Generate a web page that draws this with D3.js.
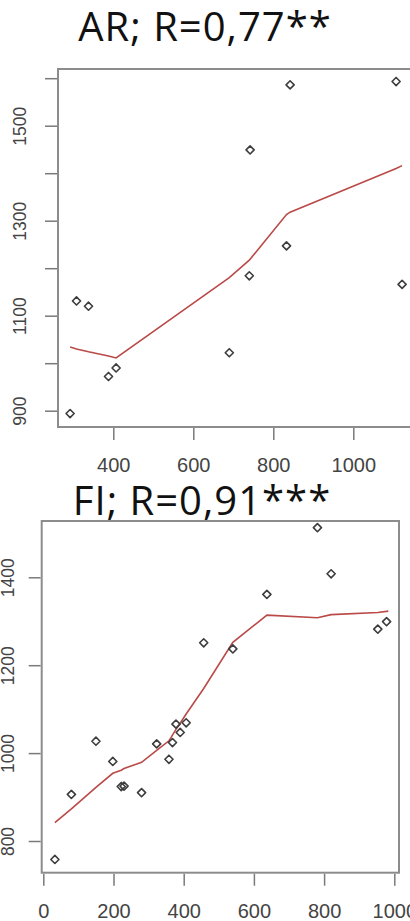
<!DOCTYPE html>
<html>
<head>
<meta charset="utf-8">
<script src="https://cdn.jsdelivr.net/npm/d3@7"></script>
<style>
  body { margin: 0; background: #fff; }
  svg { display: block; }
  .title { font-family: "Open Sans", Lato, sans-serif; font-size: 40px; fill: #111; letter-spacing: 1px; }
  .tick text { font-family: "Liberation Sans", Arial, sans-serif; fill: #444; }
  .tick line { stroke: #7a7a7a; stroke-width: 1.5px; }
  .box { fill: none; stroke: #8c8c8c; stroke-width: 2px; }
  .fit { fill: none; stroke: #b94a48; stroke-width: 1.6px; }
  .pt { fill: none; stroke: #3d3d3d; stroke-width: 1.6px; stroke-linejoin: round; }
</style>
</head>
<body>
<div id="chart"></div>
<script>
// AR panel
const arX = [292, 308, 338, 388, 407, 690, 740, 742, 833, 842, 1107, 1122];
const arY = [894, 1131, 1120, 972, 990, 1022, 1184, 1449, 1247, 1586, 1593, 1166];
const arFitX = [292, 308, 338, 388, 407, 690, 740, 742, 833, 842, 1107, 1122];
const arFitY = [1034, 1030, 1024, 1015, 1011, 1180, 1217, 1219, 1313, 1318, 1410, 1416];
const arXTicks = [400, 600, 800, 1000];
const arYTicks = [900, 1000, 1100, 1200, 1300, 1400, 1500, 1600];
const arYLabels = [900, 1100, 1300, 1500];

// FI panel
const fiX = [33, 80, 150, 198, 222, 230, 280, 323, 358, 368, 378, 390, 407, 457, 540, 637, 781, 820, 953, 978];
const fiY = [758, 906, 1027, 981, 924, 925, 910, 1021, 986, 1024, 1066, 1047, 1069, 1251, 1237, 1361, 1513, 1408, 1282, 1299];
const fiFitX = [33, 80, 150, 198, 222, 230, 280, 323, 358, 368, 378, 390, 407, 457, 540, 637, 781, 820, 953, 983];
const fiFitY = [842, 873, 922, 954, 961, 965, 979, 1006, 1028, 1041, 1054, 1068, 1089, 1147, 1252, 1314, 1308, 1315, 1320, 1323];
const fiXTicks = [0, 200, 400, 600, 800, 1000];
const fiYTicks = [800, 1000, 1200, 1400];

const W = 410, H = 921;

const svg = d3.select("#chart").append("svg")
    .attr("width", W)
    .attr("height", H);

function drawPanel(p) {
    let x = d3.scaleLinear().domain(p.xDom).range(p.xRange);
    let y = d3.scaleLinear().domain(p.yDom).range(p.yRange);
    let g = svg.append("g");

    g.append("text")
        .attr("class", "title")
        .attr("x", p.titleX)
        .attr("y", p.titleY)
        .attr("text-anchor", "middle")
        .text(p.title);

    // x axis
    let xa = g.append("g")
        .attr("transform", "translate(0," + (p.box.bottom + 1) + ")")
        .call(d3.axisBottom(x).tickValues(p.xTicks).tickSize(12).tickPadding(0).tickFormat(d3.format("d")));
    xa.select(".domain").remove();
    xa.selectAll("text").attr("y", 37).attr("dy", "0.35em").style("font-size", "20px");

    // y axis, labels turned like in R
    let ya = g.append("g")
        .attr("transform", "translate(" + (p.box.left - 1) + ",0)")
        .call(d3.axisLeft(y).tickValues(p.yTicks).tickSize(12)
            .tickFormat(d => p.yLabels.includes(d) ? d : ""));
    ya.select(".domain").remove();
    ya.selectAll("text")
        .attr("transform", "rotate(-90)")
        .attr("x", 0)
        .attr("y", -p.yLabOff)
        .attr("dy", "0.35em")
        .attr("text-anchor", "middle")
        .style("font-size", "17.5px");

    g.append("rect")
        .attr("class", "box")
        .attr("x", p.box.left)
        .attr("y", p.box.top)
        .attr("width", p.box.right - p.box.left)
        .attr("height", p.box.bottom - p.box.top);

    let line = d3.line().x(d => x(d[0])).y(d => y(d[1]));
    g.append("path")
        .datum(d3.zip(p.fitX, p.fitY))
        .attr("class", "fit")
        .attr("d", line);

    g.selectAll(".pt")
        .data(d3.zip(p.px, p.py))
        .join("path")
        .attr("class", "pt")
        .attr("transform", d => "translate(" + x(d[0]) + "," + y(d[1]) + ")")
        .attr("d", d3.symbol(d3.symbolDiamond2, 42));
}

drawPanel({
    title: "AR; R=0,77**", titleX: 205, titleY: 41,
    xDom: [400, 1000], xRange: [113.3, 353.3],
    yDom: [900, 1500], yRange: [410.7, 125.7],
    box: { left: 58, top: 69, right: 430, bottom: 427 },
    xTicks: arXTicks, yTicks: arYTicks, yLabels: arYLabels, yLabOff: 37,
    px: arX, py: arY, fitX: arFitX, fitY: arFitY
});

drawPanel({
    title: "FI; R=0,91***", titleX: 202, titleY: 515,
    xDom: [0, 1000], xRange: [43.3, 394.3],
    yDom: [800, 1400], yRange: [841, 577.3],
    box: { left: 41.7, top: 521, right: 399, bottom: 872.7 },
    xTicks: fiXTicks, yTicks: fiYTicks, yLabels: fiYTicks, yLabOff: 33,
    px: fiX, py: fiY, fitX: fiFitX, fitY: fiFitY
});
</script>
</body>
</html>
